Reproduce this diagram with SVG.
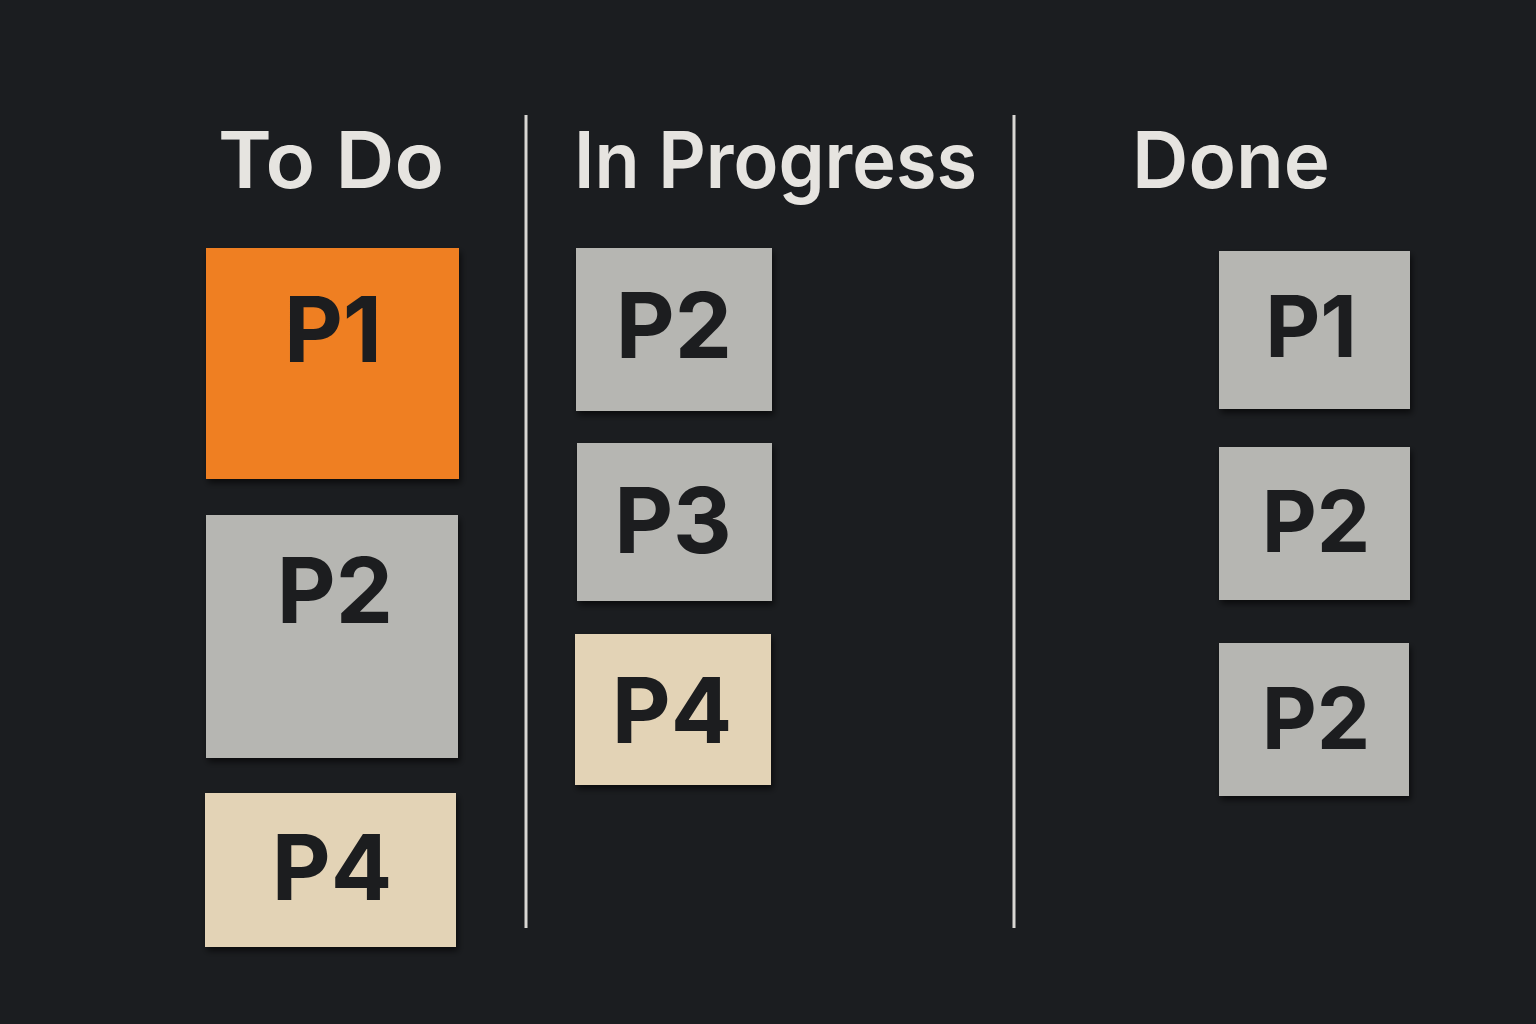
<svg xmlns="http://www.w3.org/2000/svg" width="1536" height="1024" viewBox="0 0 1536 1024">
<defs>
<filter id="sh" x="-10%" y="-10%" width="130%" height="130%">
<feDropShadow dx="2" dy="4" stdDeviation="3" flood-color="#000" flood-opacity="0.6"/>
</filter>
<style>
.hd{font-family:Inter,"Noto Sans","Liberation Sans",sans-serif;font-weight:600;font-size:78px;fill:#e6e4e0}
.lb{font-family:Inter,"Noto Sans","Liberation Sans",sans-serif;font-weight:700;text-anchor:middle;fill:#1c1d1f;font-size:91px}
.sm{font-size:85px}
.or{fill:#ef7f24}
.gr{fill:#b6b6b2}
.be{fill:#e3d3b6}
.dv{stroke:#d9d7d3;stroke-width:3}
</style>
</defs>
<rect width="1536" height="1024" fill="#1b1d20"/>
<g id="headers">
<text class="hd" x="218" y="188" textLength="226" lengthAdjust="spacingAndGlyphs">To Do</text>
<text class="hd" x="574" y="188" textLength="403" lengthAdjust="spacingAndGlyphs">In Progress</text>
<text class="hd" x="1132" y="188" textLength="198" lengthAdjust="spacingAndGlyphs">Done</text>
</g>
<g id="dividers">
<line class="dv" x1="526" y1="115" x2="526" y2="928"/>
<line class="dv" x1="1014" y1="115" x2="1014" y2="928"/>
</g>
<g id="todo-p1"><rect class="or" x="206" y="248" width="253" height="231" filter="url(#sh)"/><text class="lb" x="333" y="362">P1</text></g>
<g id="todo-p2"><rect class="gr" x="206" y="515" width="252" height="243" filter="url(#sh)"/><text class="lb" x="335" y="623">P2</text></g>
<g id="todo-p4"><rect class="be" x="205" y="793" width="251" height="154" filter="url(#sh)"/><text class="lb" x="332" y="900">P4</text></g>
<g id="prog-p2"><rect class="gr" x="576" y="248" width="196" height="163" filter="url(#sh)"/><text class="lb" x="674" y="358">P2</text></g>
<g id="prog-p3"><rect class="gr" x="577" y="443" width="195" height="158" filter="url(#sh)"/><text class="lb" x="673" y="553">P3</text></g>
<g id="prog-p4"><rect class="be" x="575" y="634" width="196" height="151" filter="url(#sh)"/><text class="lb" x="672" y="743">P4</text></g>
<g id="done-p1"><rect class="gr" x="1219" y="251" width="191" height="158" filter="url(#sh)"/><text class="lb sm" x="1311" y="357">P1</text></g>
<g id="done-p2a"><rect class="gr" x="1219" y="447" width="191" height="153" filter="url(#sh)"/><text class="lb sm" x="1316" y="552">P2</text></g>
<g id="done-p2b"><rect class="gr" x="1219" y="643" width="190" height="153" filter="url(#sh)"/><text class="lb sm" x="1316" y="749">P2</text></g>
</svg>
